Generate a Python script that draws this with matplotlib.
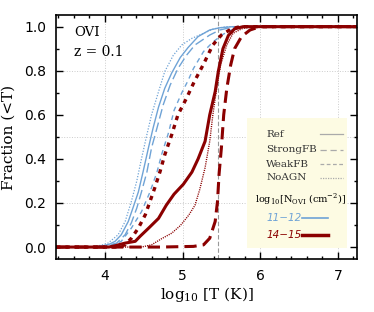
import numpy as np
import matplotlib
matplotlib.use('Agg')
import matplotlib.pyplot as plt
from matplotlib.ticker import MultipleLocator

# Cumulative fraction curves (log10 T, fraction)
# low column density 11-12 (thin blue)
blue_ref_x = [3.37, 3.85, 3.95, 4.05, 4.13, 4.21, 4.30, 4.36, 4.43, 4.49, 4.56, 4.62, 4.69, 4.77,
              4.86, 4.97, 5.07, 5.20, 5.35, 5.48, 5.65, 7.25]
blue_ref_y = [0.0, 0.0, 0.004, 0.012, 0.026, 0.056, 0.116, 0.177, 0.25, 0.34, 0.45, 0.54, 0.635, 0.72,
              0.79, 0.86, 0.905, 0.955, 0.985, 0.995, 1.0, 1.0]
blue_strong_x = [3.37, 3.85, 3.98, 4.07, 4.15, 4.26, 4.34, 4.41, 4.47, 4.54, 4.60, 4.67, 4.75, 4.84,
                 4.94, 5.05, 5.16, 5.35, 5.48, 5.61, 5.74, 7.25]
blue_strong_y = [0.0, 0.0, 0.004, 0.01, 0.018, 0.056, 0.11, 0.177, 0.25, 0.34, 0.45, 0.54, 0.645, 0.735,
                 0.81, 0.87, 0.917, 0.962, 0.985, 0.995, 1.0, 1.0]
blue_weak_x = [3.37, 3.9, 4.05, 4.13, 4.21, 4.34, 4.47, 4.58, 4.67, 4.73, 4.82, 4.89, 4.99, 5.07,
               5.14, 5.27, 5.39, 5.52, 5.63, 5.75, 7.25]
blue_weak_y = [0.0, 0.0, 0.006, 0.014, 0.026, 0.086, 0.16, 0.25, 0.34, 0.42, 0.52, 0.62, 0.70, 0.755,
               0.81, 0.887, 0.93, 0.965, 0.985, 0.997, 1.0]
blue_noagn_x = [3.37, 3.8, 3.95, 4.04, 4.17, 4.26, 4.34, 4.41, 4.47, 4.54, 4.60, 4.69, 4.77, 4.88,
                4.99, 5.12, 5.24, 5.40, 5.57, 7.25]
blue_noagn_y = [0.0, 0.0, 0.008, 0.018, 0.056, 0.116, 0.207, 0.30, 0.40, 0.51, 0.60, 0.705, 0.796, 0.87,
                0.917, 0.947, 0.965, 0.99, 1.0, 1.0]

# high column density 14-15 (thick dark red)
red_ref_x = [3.37, 4.05, 4.13, 4.26, 4.39, 4.45, 4.56, 4.69, 4.79, 4.89, 5.01, 5.12, 5.20, 5.29,
             5.35, 5.42, 5.46, 5.52, 5.59, 5.67, 5.78, 7.25]
red_ref_y = [0.0, 0.0, 0.006, 0.018, 0.026, 0.048, 0.085, 0.13, 0.19, 0.24, 0.285, 0.34, 0.40, 0.48,
             0.60, 0.705, 0.796, 0.90, 0.96, 0.99, 1.0, 1.0]
red_strong_x = [3.37, 4.71, 5.14, 5.27, 5.35, 5.42, 5.45, 5.47, 5.50, 5.53, 5.57, 5.62, 5.67, 5.76,
                5.87, 6.0, 7.25]
red_strong_y = [0.0, 0.0, 0.003, 0.01, 0.04, 0.116, 0.207, 0.33, 0.45, 0.60, 0.72, 0.826, 0.90, 0.955,
                0.985, 1.0, 1.0]
red_weak_x = [3.37, 4.13, 4.26, 4.34, 4.43, 4.52, 4.58, 4.64, 4.71, 4.77, 4.86, 4.94, 5.05, 5.15,
              5.27, 5.39, 5.50, 5.63, 5.74, 7.25]
red_weak_y = [0.0, 0.0, 0.01, 0.04, 0.086, 0.147, 0.207, 0.267, 0.343, 0.418, 0.51, 0.60, 0.675, 0.75,
              0.83, 0.917, 0.962, 0.99, 1.0, 1.0]
red_noagn_x = [3.37, 4.47, 4.60, 4.73, 4.86, 4.97, 5.08, 5.16, 5.22, 5.29, 5.35, 5.39, 5.44, 5.49,
               5.57, 5.65, 5.76, 5.87, 7.25]
red_noagn_y = [0.0, 0.0, 0.01, 0.038, 0.063, 0.097, 0.145, 0.19, 0.26, 0.36, 0.48, 0.60, 0.72, 0.826,
               0.917, 0.97, 0.99, 1.0, 1.0]

t_mark = 5.46
blue = '#6fa3d6'
red = '#8b0000'

fig = plt.figure(figsize=(3.74, 3.12), dpi=100)
ax = fig.add_axes([0.150, 0.170, 0.805, 0.782])

# grid
for gx in [4, 5, 6, 7]:
    ax.axvline(gx, color='#cccccc', lw=0.7, ls=':', zorder=0)
for gy in [0.2, 0.5, 0.8]:
    ax.axhline(gy, color='#cccccc', lw=0.7, ls=':', zorder=0)
ax.axvline(t_mark, color='#999999', lw=0.8, ls=(0, (4, 2)), zorder=1)

ax.plot(blue_ref_x, blue_ref_y, color=blue, lw=1.0, ls='-')
ax.plot(blue_strong_x, blue_strong_y, color=blue, lw=1.0, ls=(0, (7, 3)))
ax.plot(blue_weak_x, blue_weak_y, color=blue, lw=1.0, ls=(0, (3.5, 3)))
ax.plot(blue_noagn_x, blue_noagn_y, color=blue, lw=0.9, ls=(0, (1, 1.3)))

ax.plot(red_ref_x, red_ref_y, color=red, lw=2.2, ls='-')
ax.plot(red_strong_x, red_strong_y, color=red, lw=2.2, ls=(0, (4, 2)))
ax.plot(red_weak_x, red_weak_y, color=red, lw=2.4, ls=(0, (1.3, 1.5)))
ax.plot(red_noagn_x, red_noagn_y, color=red, lw=1.0, ls=(0, (0.8, 0.8)))

ax.set_xlim(3.37, 7.25)
ax.set_ylim(-0.054, 1.053)
ax.xaxis.set_major_locator(MultipleLocator(1))
ax.xaxis.set_minor_locator(MultipleLocator(0.2))
ax.yaxis.set_major_locator(MultipleLocator(0.2))
ax.yaxis.set_minor_locator(MultipleLocator(0.1))
ax.tick_params(which='both', direction='in', top=True, right=True, width=1.0)
ax.tick_params(which='major', length=5, labelsize=10, pad=7)
ax.tick_params(which='minor', length=2.5)
ax.set_yticklabels([f'{v:.1f}' for v in ax.get_yticks()])
for lab in ax.get_xticklabels() + ax.get_yticklabels():
    lab.set_family('DejaVu Sans')
for sp in ax.spines.values():
    sp.set_linewidth(1.2)

ax.set_xlabel(r'log$_{\mathregular{10}}$ [T (K)]', family='DejaVu Serif', fontsize=11, labelpad=2)
ax.set_ylabel('Fraction (<T)', family='DejaVu Serif', fontsize=11, labelpad=6)

ax.text(0.06, 0.93, 'OVI', transform=ax.transAxes, family='DejaVu Serif', fontsize=9.5, va='center')
ax.text(0.06, 0.85, 'z = 0.1', transform=ax.transAxes, family='DejaVu Serif', fontsize=10, va='center')

# legend box
ax.add_patch(plt.Rectangle((0.635, 0.045), 0.332, 0.533, transform=ax.transAxes,
                           facecolor='#fdfbe3', edgecolor='none', zorder=3))
styles = [('Ref', '-'), ('StrongFB', (0, (5, 3))), ('WeakFB', (0, (3, 2))), ('NoAGN', (0, (1, 1)))]
ys = [0.512, 0.447, 0.389, 0.332]
for (name, ls), yy in zip(styles, ys):
    ax.text(0.698, yy, name, transform=ax.transAxes, family='DejaVu Serif', fontsize=7.5,
            va='center', color='#333333', zorder=4)
    ax.plot([0.877, 0.953], [yy, yy], transform=ax.transAxes, color='#aaaaaa', lw=0.9, ls=ls, zorder=4)
ax.text(0.660, 0.246, r'log$_{\mathregular{10}}$[N$_{\mathregular{OVI}}$ (cm$^{\mathregular{-2}}$)]',
        transform=ax.transAxes, family='DejaVu Serif', fontsize=7, va='center', zorder=4)
ax.text(0.70, 0.168, '11\u221212', transform=ax.transAxes, family='DejaVu Sans', style='italic',
        fontsize=7.5, color=blue, va='center', zorder=4)
ax.plot([0.817, 0.904], [0.168, 0.168], transform=ax.transAxes, color=blue, lw=1.2, zorder=4)
ax.text(0.70, 0.098, '14\u221215', transform=ax.transAxes, family='DejaVu Sans', style='italic',
        fontsize=7.5, color=red, va='center', zorder=4)
ax.plot([0.817, 0.904], [0.098, 0.098], transform=ax.transAxes, color=red, lw=2.5, zorder=4)

fig.savefig('out.png', dpi=100)
